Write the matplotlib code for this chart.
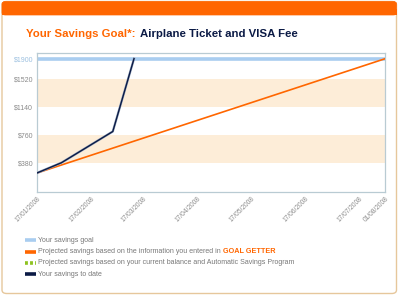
import matplotlib
matplotlib.use("Agg")
import matplotlib.pyplot as plt
from matplotlib.patches import FancyBboxPatch, Rectangle
from datetime import datetime

# ---- data ----
savings_dates = ["2008-01-17", "2008-01-31", "2008-02-29", "2008-03-12"]
savings_values = [250, 390, 810, 1790]
projected_dates = ["2008-01-17", "2008-08-01"]
projected_values = [250, 1790]
goal_value = 1790
goal_label = "$1900"
ytick_values = [380, 760, 1140, 1520]
ytick_labels = ["$380", "$760", "$1140", "$1520"]
band_ranges = [(380, 760), (1140, 1520)]
xtick_dates = ["2008-01-17", "2008-02-17", "2008-03-17", "2008-04-17",
               "2008-05-17", "2008-06-17", "2008-07-17", "2008-08-01"]
xtick_labels = ["17/01/2008", "17/02/2008", "17/03/2008", "17/04/2008",
                "17/05/2008", "17/06/2008", "17/07/2008", "01/08/2008"]
title_part1 = "Your Savings Goal*:"
title_part2 = "Airplane Ticket and VISA Fee"
legend_items = [
    ("Your savings goal", None),
    ("Projected savings based on the information you entered in", "GOAL GETTER"),
    ("Projected savings based on your current balance and Automatic Savings Program", None),
    ("Your savings to date", None),
]

ORANGE = "#FF6600"
NAVY = "#0B1A45"
GOALBLUE = "#A9CDF0"
GREEN = "#8DC21F"
BAND = "#FDEDD8"
GRAY = "#8A8A8A"
SPINE = "#B9CBD3"

def d(s):
    return datetime.strptime(s, "%Y-%m-%d")

W, H = 400, 296
fig = plt.figure(figsize=(4.0, 2.96), dpi=100)
fig.patch.set_facecolor("white")

def fx(px):
    return px / W

def fy(py):
    return 1 - py / H

# card border
card = FancyBboxPatch((fx(2), fy(293.5)), fx(394.5), (293.5 - 1.5) / H,
                      boxstyle="round,pad=0,rounding_size=0.012",
                      transform=fig.transFigure, facecolor="white",
                      edgecolor="#E6C79C", linewidth=1.0, zorder=-3)
fig.patches.append(card)
header = FancyBboxPatch((fx(2), fy(15)), fx(394.5), 13.5 / H,
                        boxstyle="round,pad=0,rounding_size=0.008",
                        transform=fig.transFigure, facecolor=ORANGE,
                        edgecolor=ORANGE, linewidth=0.5, zorder=-2)
fig.patches.append(header)
fig.patches.append(Rectangle((fx(2), fy(15)), fx(394.5), 6 / H,
                             transform=fig.transFigure, facecolor=ORANGE,
                             edgecolor="none", zorder=-2))

# title
tfont = dict(family="Liberation Sans", weight="bold", size=8.2)
t1 = fig.text(fx(26), fy(34), title_part1, color=ORANGE, va="center", ha="left", **tfont)
fig.canvas.draw()
bb = t1.get_window_extent()
fig.text(bb.x1 / W + fx(5), fy(34), title_part2, color=NAVY, va="center", ha="left", **tfont)

# axes
ax = fig.add_axes([fx(36.7), fy(191.7), fx(348.6), (191.7 - 52.7) / H], zorder=2)
ax.set_facecolor("white")
for lo, hi in band_ranges:
    ax.axhspan(lo, hi, color=BAND, lw=0, zorder=0)

xd = [d(s) for s in xtick_dates]
ax.set_xlim(xd[0], xd[-1])
ax.set_ylim(0, 1870)

ax.axhline(goal_value, color=GOALBLUE, lw=2.6, zorder=2)
ax.plot([d(s) for s in projected_dates], projected_values, color=ORANGE, lw=1.2, zorder=3)
ax.plot([d(s) for s in savings_dates], savings_values, color="#9AAAC0", lw=1.7, zorder=3.5)
ax.plot([d(s) for s in savings_dates], savings_values, color=NAVY, lw=1.0, zorder=4)

ax.set_yticks(ytick_values + [goal_value])
ax.set_yticklabels(ytick_labels + [goal_label], fontsize=5.0, family="Liberation Sans")
for lbl in ax.get_yticklabels():
    lbl.set_color(GRAY)
ax.get_yticklabels()[-1].set_color("#9CC0E0")

ax.set_xticks(xd)
ax.set_xticklabels(xtick_labels, rotation=45, ha="right", rotation_mode="anchor",
                   fontsize=4.8, color=GRAY, family="Liberation Sans")
ax.tick_params(axis="both", length=0, pad=2.5)
for sp in ax.spines.values():
    sp.set_color(SPINE)
    sp.set_linewidth(0.9)

# legend
lfont = dict(family="Liberation Sans", size=5.0)
leg_y = [240, 251.5, 263, 274]
styles = [
    dict(color=GOALBLUE, lw=2.6, ls="-"),
    dict(color=ORANGE, lw=2.6, ls="-"),
    dict(color=GREEN, lw=2.6, ls=(0, (0.8, 0.6))),
    dict(color=NAVY, lw=2.6, ls="-"),
]
for (txt, extra), y, st in zip(legend_items, leg_y, styles):
    fig.add_artist(plt.Line2D([fx(24.5), fx(35.5)], [fy(y), fy(y)],
                              transform=fig.transFigure, solid_capstyle="butt", **st))
    t = fig.text(fx(38.5), fy(y), txt, color="#777777", va="center", ha="left", **lfont)
    if extra:
        fig.canvas.draw()
        b = t.get_window_extent()
        fig.text(b.x1 / W + fx(2), fy(y), extra, color=ORANGE, va="center", ha="left",
                 family="Liberation Sans", size=5.2, weight="bold")

fig.savefig("out.png", dpi=100)
